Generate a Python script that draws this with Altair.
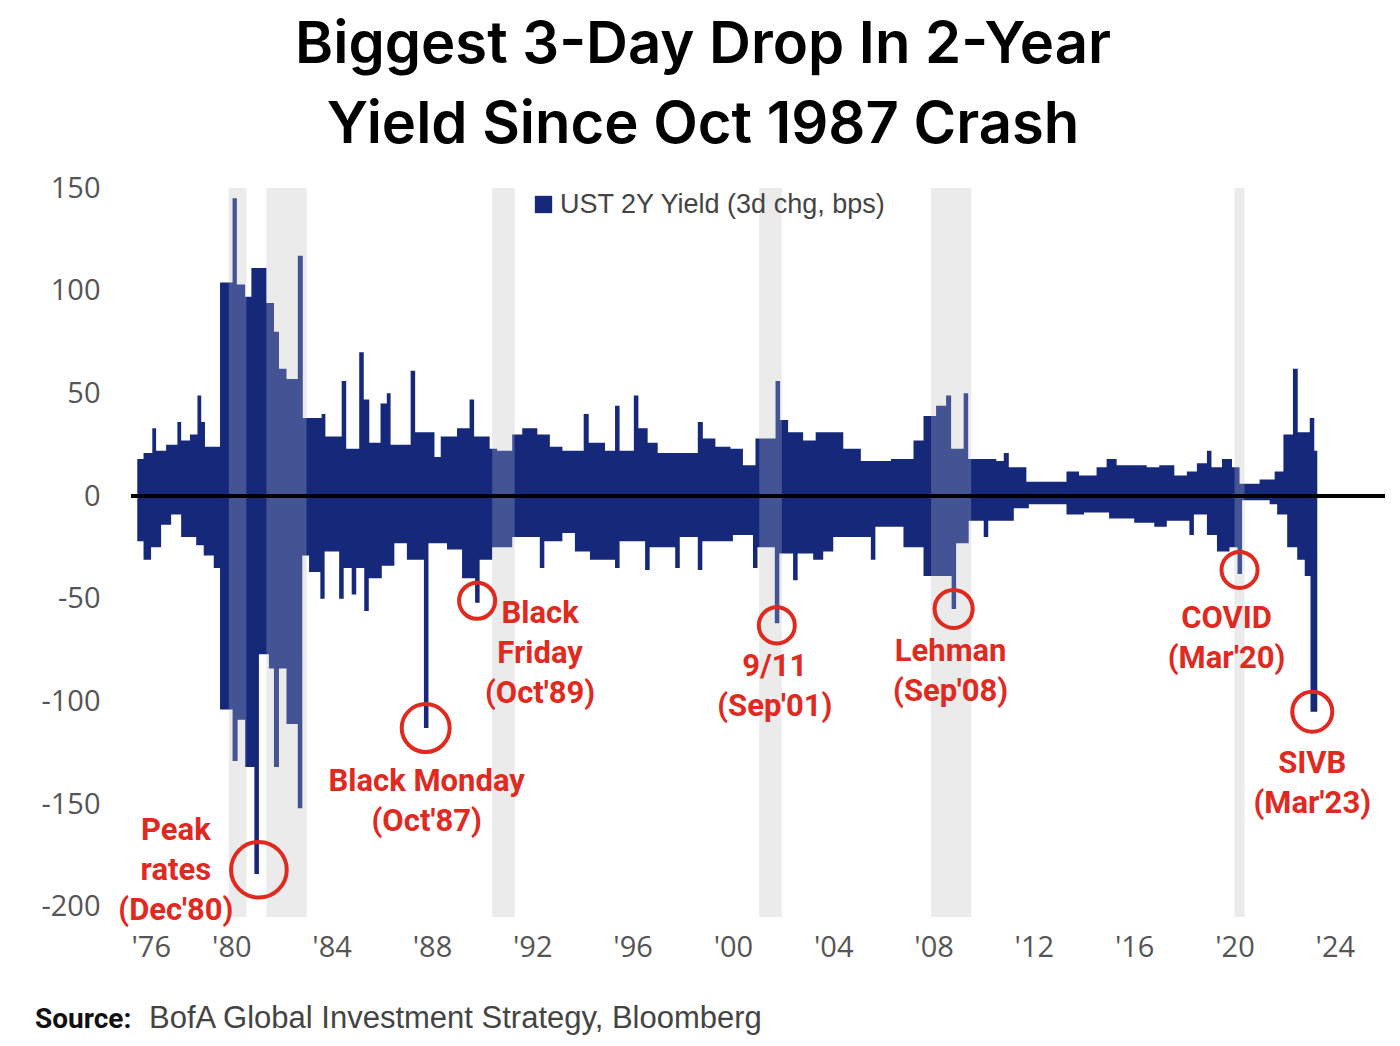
import altair as alt
import pandas as pd

# UST 2Y yield, 3-day change (bps): upper and lower envelope of the daily bars
up_year = [1976.25, 1976.5, 1976.85, 1977.0, 1977.4, 1977.85, 1978.0, 1978.35, 1978.65, 1978.8,
           1978.95, 1979.55, 1980.05, 1980.22, 1980.55, 1980.8, 1981.4, 1981.7, 1981.9, 1982.2,
           1982.65, 1982.85, 1983.6, 1983.75, 1984.4, 1984.58, 1985.1, 1985.28, 1985.5, 1985.95,
           1986.2, 1986.35, 1987.15, 1987.33, 1988.1, 1988.35, 1989.0, 1989.5, 1989.68, 1990.3,
           1990.6, 1991.2, 1991.6, 1992.2, 1992.7, 1993.2, 1994.05, 1994.25, 1994.9, 1995.3,
           1995.48, 1996.05, 1996.23, 1996.6, 1997.0, 1998.6, 1998.8, 1999.3, 1999.9, 2000.4,
           2000.9, 2001.7, 2001.88, 2002.2, 2002.8, 2003.3, 2003.7, 2004.4, 2005.1, 2006.3,
           2007.2, 2007.6, 2008.1, 2008.5, 2008.7, 2009.2, 2009.38, 2010.5, 2010.8, 2011.0,
           2011.7, 2013.3, 2013.8, 2014.5, 2014.9, 2015.3, 2016.5, 2017.0, 2017.6, 2018.1,
           2018.5, 2018.9, 2019.08, 2019.5, 2019.9, 2020.2, 2021.0, 2021.6, 2021.95, 2022.33,
           2022.52, 2023.0, 2023.18, 2023.3]
up_bps = [18, 21, 33, 22, 25, 36, 27, 30, 49, 36,
          24, 104, 145, 103, 97, 111, 94, 80, 62, 57,
          117, 38, 40, 29, 56, 23, 70, 47, 26, 45,
          50, 25, 61, 31, 19, 29, 33, 47, 29, 23,
          22, 30, 33, 30, 24, 22, 40, 26, 22, 44,
          22, 49, 33, 26, 21, 36, 28, 24, 23, 15,
          28, 56, 37, 31, 27, 31, 31, 23, 17, 18,
          27, 39, 44, 49, 23, 50, 18, 17, 21, 14,
          7, 12, 10, 14, 18, 15, 14, 15, 10, 12,
          16, 22, 14, 18, 14, 6, 8, 12, 30, 62,
          31, 38, 22, 0]

lo_year = [1976.25, 1976.5, 1976.8, 1977.2, 1977.6, 1978.0, 1978.6, 1978.9, 1979.3, 1979.55,
           1980.05, 1980.25, 1980.55, 1980.92, 1981.1, 1981.5, 1981.7, 1981.9, 1982.2, 1982.65,
           1982.83, 1983.1, 1983.55, 1983.72, 1984.3, 1984.48, 1984.8, 1984.98, 1985.3, 1985.48,
           1986.0, 1986.5, 1987.0, 1987.68, 1987.86, 1988.6, 1989.2, 1989.72, 1989.9, 1990.4,
           1991.2, 1992.3, 1992.48, 1993.2, 1993.7, 1994.3, 1995.3, 1995.48, 1996.5, 1996.68,
           1997.7, 1997.88, 1998.6, 1998.78, 2000.0, 2000.8, 2000.98, 2001.67, 2001.85, 2002.4,
           2002.58, 2003.2, 2003.6, 2004.0, 2005.5, 2005.68, 2006.8, 2007.6, 2008.72, 2008.9,
           2009.4, 2010.0, 2010.18, 2011.2, 2011.8, 2013.3, 2014.0, 2015.0, 2016.0, 2016.8,
           2017.3, 2018.2, 2018.38, 2018.9, 2019.3, 2019.8, 2020.12, 2020.3, 2021.4, 2021.7,
           2022.1, 2022.5, 2022.8, 2023.03, 2023.3]
lo_bps = [-22, -31, -25, -14, -9, -20, -24, -29, -35, -104,
          -129, -109, -132, -184, -77, -84, -132, -84, -111, -152,
          -29, -37, -50, -27, -50, -35, -48, -35, -56, -40,
          -34, -23, -31, -113, -23, -26, -40, -52, -31, -25,
          -20, -35, -22, -18, -27, -31, -35, -22, -36, -25,
          -35, -20, -36, -22, -19, -35, -25, -62, -28, -41,
          -28, -31, -27, -20, -31, -15, -25, -39, -55, -23,
          -12, -20, -12, -6, -4, -9, -8, -11, -13, -15,
          -12, -19, -9, -19, -27, -25, -38, -2, -4, -9,
          -25, -31, -39, -105, 0]

# shaded recessions (decimal years)
rec_start = [1979.9, 1981.4, 1990.4, 2001.05, 2007.9, 2020.0]
rec_end = [1980.6, 1983.0, 1991.3, 2001.95, 2009.5, 2020.4]

# circled drops
ev_label = ["Peak\nrates\n(Dec'80)", "Black Monday\n(Oct'87)", "Black\nFriday\n(Oct'89)",
            "9/11\n(Sep'01)", "Lehman\n(Sep'08)", "COVID\n(Mar'20)", "SIVB\n(Mar'23)"]
ev_year = [1981.1, 1987.75, 1989.8, 2001.75, 2008.8, 2020.2, 2023.1]
ev_bps = [-182, -113, -51, -63, -55, -36, -105]

x_ticks = [1976, 1980, 1984, 1988, 1992, 1996, 2000, 2004, 2008, 2012, 2016, 2020, 2024]
y_ticks = [-200, -150, -100, -50, 0, 50, 100, 150]

SERIES = "UST 2Y Yield (3d chg, bps)"
NAVY = "#15287a"
RED = "#e0291f"
LABEL_FONT = "Roboto"

# label placement relative to each circle (px) and circle sizes
lab_dx = [-83, 1, 63, -2, -3, -13, 0]
lab_dy = [-30, 63, 22, 51, 52, 58, 61]
ring_size = [3100, 2300, 1300, 1300, 1450, 1300, 1600]

up = pd.DataFrame({"year": up_year, "bps": up_bps, "series": SERIES})
lo = pd.DataFrame({"year": lo_year, "bps": lo_bps, "series": SERIES})
rec = pd.DataFrame({"year": rec_start, "end": rec_end})
ev = pd.DataFrame({"year": ev_year, "bps": ev_bps, "label": ev_label, "ring": ring_size})

x_scale = alt.Scale(domain=[1976, 2026], nice=False)
y_scale = alt.Scale(domain=[-205, 150], nice=False, zero=False)
x_axis = alt.Axis(values=x_ticks, title=None, labelPadding=16,
                  labelExpr="\"'\" + slice(toString(datum.value), 2)")
y_axis = alt.Axis(values=y_ticks, title=None, labelPadding=31,
                  labelExpr="datum.value < 0 ? '-' + abs(datum.value) : '' + datum.value")


def X(field="year"):
    return alt.X(f"{field}:Q", scale=x_scale, axis=x_axis)


def Y(field="bps"):
    return alt.Y(f"{field}:Q", scale=y_scale, axis=y_axis, stack=None)


legend = alt.Legend(title=None, orient="none", legendX=399, legendY=3, symbolType="square",
                    symbolSize=300, symbolStrokeWidth=0, symbolOpacity=1, padding=0,
                    labelFont="Liberation Sans", labelFontSize=27, labelColor="#444",
                    labelOffset=3, labelLimit=0)
color = alt.Color("series:N", scale=alt.Scale(range=[NAVY]), legend=legend)

bands = alt.Chart(rec).mark_rect(color="#e6e6e6").encode(
    x=X(), x2="end:Q", y=alt.datum(150), y2=alt.datum(-205))
upper = alt.Chart(up).mark_area(interpolate="step-after").encode(x=X(), y=Y(), color=color)
lower = alt.Chart(lo).mark_area(interpolate="step-after").encode(x=X(), y=Y(), color=color)
veil = alt.Chart(rec).mark_rect(color="white", opacity=0.2).encode(
    x=X(), x2="end:Q", y=alt.datum(150), y2=alt.datum(-205))
zero = alt.Chart(rec).mark_rule(color="black", strokeWidth=3).encode(
    x=alt.datum(1976), x2=alt.datum(2026), y=alt.datum(0))
rings = alt.Chart(ev).mark_point(shape="circle", filled=False, color=RED, strokeWidth=4,
                                 opacity=1).encode(
    x=X(), y=Y(), size=alt.Size("ring:Q", scale=None, legend=None))

labels = []
for i in range(len(ev_label)):
    labels.append(
        alt.Chart(ev.iloc[[i]]).mark_text(
            font=LABEL_FONT, fontSize=31, fontWeight="bold", color=RED, align="center",
            baseline="alphabetic", lineBreak="\n", lineHeight=40,
            dx=lab_dx[i], dy=lab_dy[i]).encode(x=X(), y=Y(), text="label:N"))

title = alt.Chart(pd.DataFrame({"t": ["Biggest 3-Day Drop In 2-Year\nYield Since Oct 1987 Crash"]})).mark_text(
    font="Inter", fontSize=58, fontWeight=600, color="black", align="center",
    baseline="alphabetic", lineBreak="\n", lineHeight=80).encode(
    text="t:N", x=alt.value(572), y=alt.value(-125))
src_bold = alt.Chart(pd.DataFrame({"t": ["Source:"]})).mark_text(
    font="Roboto", fontSize=28, fontWeight="bold", color="#111", align="left",
    baseline="alphabetic").encode(text="t:N", x=alt.value(-96), y=alt.value(840))
src = alt.Chart(pd.DataFrame({"t": ["BofA Global Investment Strategy, Bloomberg"]})).mark_text(
    font="Liberation Sans", fontSize=31, color="#444", align="left",
    baseline="alphabetic").encode(text="t:N", x=alt.value(18), y=alt.value(840))

chart = alt.layer(bands, upper, lower, veil, zero, rings, *labels, title, src_bold, src).properties(
    width=1254, height=729,
    autosize=alt.AutoSizeParams(type="none"),
    padding={"left": 123, "top": 180, "right": 5, "bottom": 121},
).configure_view(stroke=None).configure_axis(
    grid=False, domain=False, ticks=False, tickSize=0,
    labelFont="Open Sans", labelFontSize=29, labelColor="#555")

chart.save("out.html", embed_options={"renderer": "svg", "actions": False})
